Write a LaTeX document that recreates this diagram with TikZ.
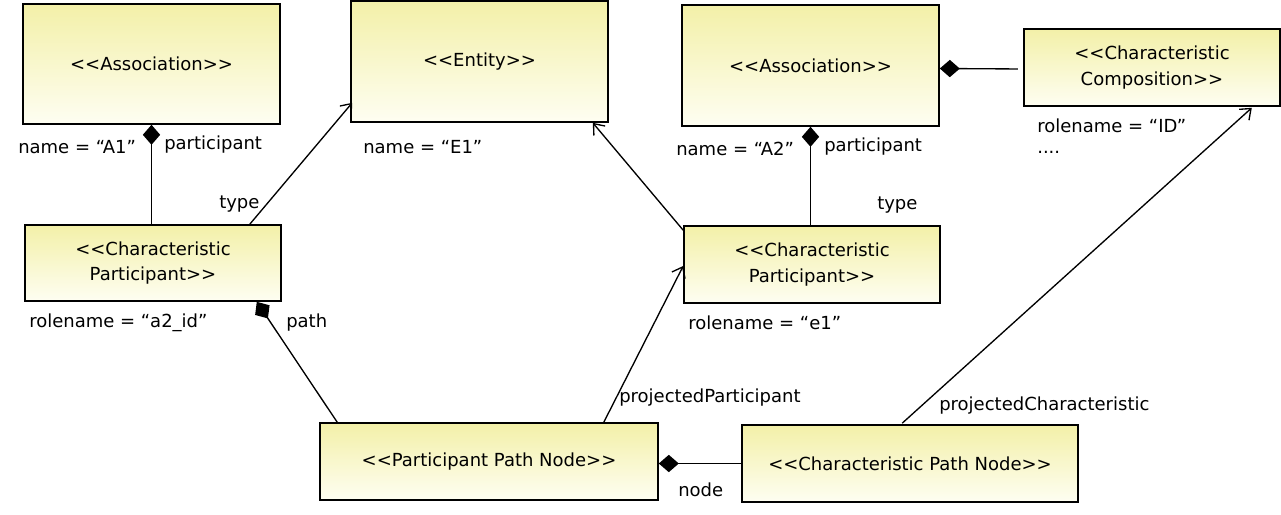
\documentclass[tikz,border=0pt]{standalone}
\usepackage{fontspec}
\setmainfont{DejaVu Sans}
\usepackage{tikz}
\usetikzlibrary{arrows.meta}
\usetikzlibrary{calc}
\usepackage{xcolor}
\definecolor{umltop}{RGB}{243,240,168}
\definecolor{umlbot}{RGB}{254,254,242}
% stereotype brackets, kept apart so they are not turned into guillemets
\newcommand{\stereo}[1]{<{}<#1>{}>}

\begin{document}
\begin{tikzpicture}[x=0.75pt,y=0.75pt,yscale=-1,xscale=1,
  umlbox/.style={draw, line width=1.2pt, top color=umltop, bottom color=umlbot,
    align=center, inner sep=2pt, font=\fontsize{13.5}{19}\selectfont},
  lbl/.style={anchor=west, inner sep=0.75pt, font=\fontsize{13.5}{16}\selectfont},
  link/.style={line width=1pt},
  typeof/.style={link, -{Straight Barb[length=7pt,width=11pt]}},
  owned/.style={link, {Diamond[length=15pt,width=13pt]}-},
  ownedend/.style={link, -{Diamond[length=15pt,width=13pt]}}]
\useasboundingbox (0,0) rectangle (1281,514);

%Shape: Rectangle
\node [umlbox, minimum width=192.75pt, minimum height=90pt] (as1) at (151.5,64) {\stereo{Association}};
%Shape: Rectangle
\node [umlbox, minimum width=192.75pt, minimum height=90.75pt] (ent) at (479.5,61.5) {\stereo{Entity}};
%Shape: Rectangle
\node [umlbox, minimum width=192.75pt, minimum height=90.75pt] (as2) at (810.5,65.5) {\stereo{Association}};
%Shape: Rectangle
\node [umlbox, minimum width=192pt, minimum height=57.75pt] (comp) at (1152,67.5) {<{}<Characteristic\\Composition>{}>};
%Shape: Rectangle
\node [umlbox, minimum width=192pt, minimum height=57pt] (cp1) at (153,263) {<{}<Characteristic\\Participant>{}>};
%Shape: Rectangle
\node [umlbox, minimum width=192pt, minimum height=57.75pt] (cp2) at (812,264.5) {<{}<Characteristic\\Participant>{}>};
%Shape: Rectangle
\node [umlbox, minimum width=253.5pt, minimum height=57.75pt] (ppn) at (489,461.5) {\stereo{Participant Path Node}};
%Shape: Rectangle
\node [umlbox, minimum width=252pt, minimum height=57.75pt] (cpn) at (910,463.5) {\stereo{Characteristic Path Node}};

%Straight Lines
\draw [owned] (as1.south) -- (as1.south |- cp1.north);
\draw [typeof] ($(cp1.north east)+(-32,0)$) -- ($(ent.south west)+(2,-20)$);
\draw [typeof] ($(cp2.north west)+(0,5)$) -- ($(ent.south east)+(-16,0)$);
\draw [owned] (as2.south) -- (as2.south |- cp2.north);
\draw [owned, shorten >=4pt] ($(as2.east)+(0,3)$) -- ($(comp.west)+(0,1.5)$);
\draw [typeof] ($(ppn.north east)+(-55,0)$) -- ($(cp2.west)+(0,1.5)$);
\draw [ownedend] ($(ppn.north west)+(18,0)$) -- ($(cp1.south east)+(-25,0)$);
\draw [ownedend] (cpn.west) -- (ppn.east |- cpn.west);
\draw [typeof] ($(cpn.north west)+(161,-1)$) -- ($(comp.south east)+(-29,1)$);

% Text Node
\node [lbl] (lA1) at (17,147) {name = “A1”};
% Text Node
\node [lbl] (lpart1) at (163,145) {participant};
% Text Node
\node [lbl] (ltype1) at (218,204) {type};
% Text Node
\node [lbl] (lE1) at (362,147) {name = “E1”};
% Text Node
\node [lbl] (lA2) at (675,149) {name = “A2”};
% Text Node
\node [lbl] (lpart2) at (823,147) {participant};
% Text Node
\node [lbl] (ltype2) at (876,205) {type};
% Text Node
\node [lbl] (lID) at (1036,126) {rolename = “ID”};
% Text Node
\node [lbl] (ldots) at (1036,152) {....};
% Text Node
\node [lbl] (la2id) at (28,323) {rolename = “a2\_id”};
% Text Node
\node [lbl] (lpath) at (285,323) {path};
% Text Node
\node [lbl] (le1) at (687,323) {rolename = “e1”};
% Text Node
\node [lbl] (lprojp) at (618,398) {projectedParticipant};
% Text Node
\node [lbl] (lprojc) at (938,406) {projectedCharacteristic};
% Text Node
\node [lbl] (lnode) at (677,490) {node};

\end{tikzpicture}
\end{document}
